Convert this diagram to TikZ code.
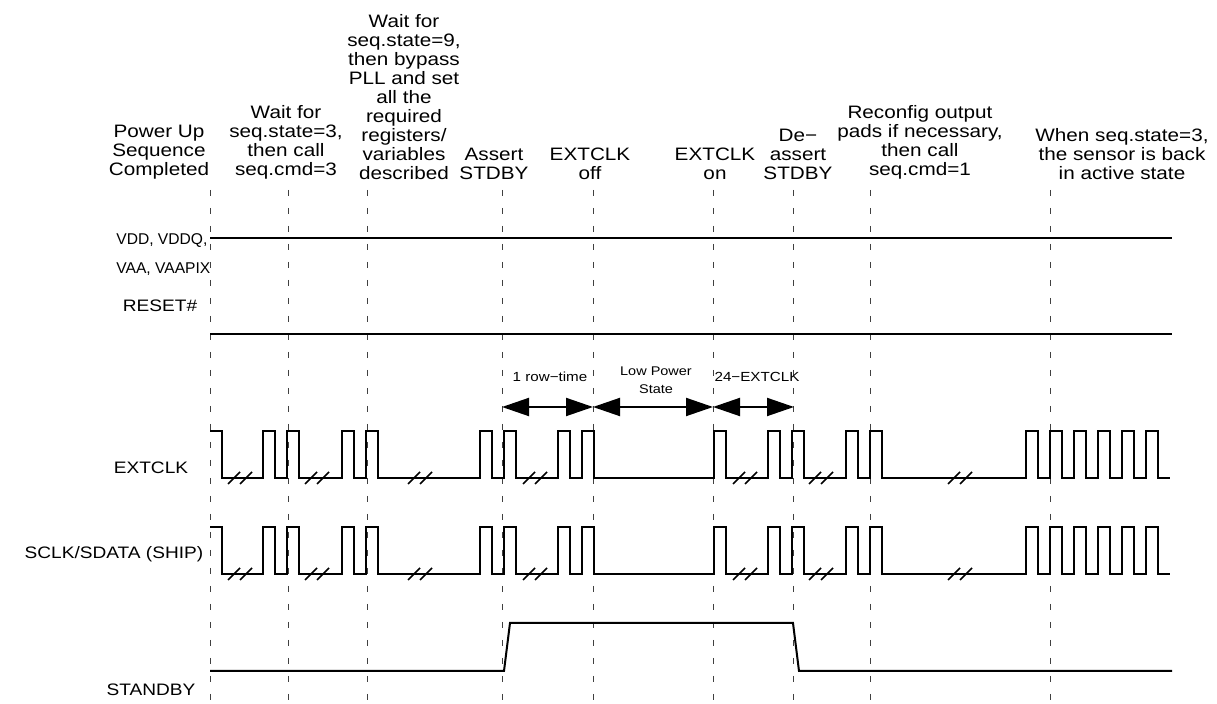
\documentclass[tikz,border=0pt]{standalone}
\usepackage{fontspec}
\setmainfont{Liberation Sans}[FakeStretch=1.15]
\newfontfamily\supplyfont{Liberation Sans}
\usetikzlibrary{arrows.meta}

% clock trace: #1 = high level, #2 = low level
\newcommand{\clkwave}[2]{%
\draw[clk] (210,#1) -- (222,#1) -- (222,#2)
  foreach \p in {263,287,342,366,480,504,558,582,714,768,792,846,870,1026,1050,1074,1098,1122,1146}
  { -- (\p,#2) -- (\p,#1) -- ({\p+12},#1) -- ({\p+12},#2) } -- (1170,#2);
\foreach \b in {240,317,420,535,745,821,960}
  \draw[clk] ({\b-12},{#2+6}) -- (\b,{#2-6}) (\b,{#2+6}) -- ({\b+12},{#2-6});
}

\begin{document}
\begin{tikzpicture}[x=0.5pt,y=-0.5pt,
  every node/.style={inner sep=0pt},
  evt/.style={anchor=south,align=center,font=\fontsize{9}{9.5}\selectfont},
  lbl/.style={anchor=base,font=\fontsize{8.3}{9}\selectfont},
  small/.style={anchor=base,align=center,font=\fontsize{6.6}{9}\selectfont},
  sig/.style={line width=1pt},
  clk/.style={line width=0.8pt},
  guide/.style={line width=0.5pt,black!75,dash pattern=on 3pt off 6pt},
  dimarrow/.style={line width=1pt,{Triangle[length=13.5pt,width=9pt]}-{Triangle[length=13.5pt,width=9pt]}}]
\useasboundingbox (0,0) rectangle (1217,704);

% event lines
\foreach \t in {210,288,367,502,593,713,793,870,1050}
  \draw[guide] (\t,190) -- (\t,704);

% event texts
\draw(159,180) node[evt] (pwr) {Power Up\\Sequence\\Completed};
\draw(286,180) node[evt] (wait3) {Wait for\\seq.state=3,\\then call\\seq.cmd=3};
\draw(404,180) node[evt] (wait9) {Wait for\\seq.state=9,\\then bypass\\PLL and set\\all the\\required\\registers/\\variables\\described};
\draw(494,180) node[evt] (asrt) {Assert\\STDBY};
\draw(590,180) node[evt] (off) {EXTCLK\\off};
\draw(715,180) node[evt] (on) {EXTCLK\\on};
\draw(798,180) node[evt] (deasrt) {De−\\assert\\STDBY};
\draw(920,180) node[evt] (recfg) {Reconfig output\\pads if necessary,\\then call\\seq.cmd=1};
\draw(1122,180) node[evt] (back) {When seq.state=3,\\the sensor is back\\in active state};

% signal names
\draw(116,274) node[lbl,anchor=base west,align=left,font=\supplyfont\fontsize{7.8}{9}\selectfont] (vdd) {VDD, VDDQ,\\[5.5pt]VAA, VAAPIX};
\draw(160,312) node[lbl] (rst) {RESET\#};
\draw(151,474) node[lbl] (clkname) {EXTCLK};
\draw(114,559) node[lbl] (sclk) {SCLK/SDATA (SHIP)};
\draw(151,696) node[lbl] (stby) {STANDBY};

% supplies and reset
\draw[sig] (210,238) -- (1172,238);
\draw[sig] (210,334) -- (1172,334);

% clocks
\clkwave{431}{478}
\clkwave{527}{574}

% standby
\draw[sig] (210,671) -- (504,671) -- (510,623) -- (793,623) -- (799,671) -- (1172,671);

% timing spans
\coordinate (s1) at (502,407);
\coordinate (s2) at (593,407);
\coordinate (s3) at (713,407);
\coordinate (s4) at (794,407);
\draw[dimarrow] (s1) -- (s2);
\draw[dimarrow] (s2) -- (s3);
\draw[dimarrow] (s3) -- (s4);
\draw(550,382) node[small] (rowt) {1 row−time};
\draw(656,394) node[small,font=\fontsize{6.3}{9}\selectfont] (lps) {Low Power\\State};
\draw(757,382) node[small] (clk24) {24−EXTCLK};
\end{tikzpicture}
\end{document}
